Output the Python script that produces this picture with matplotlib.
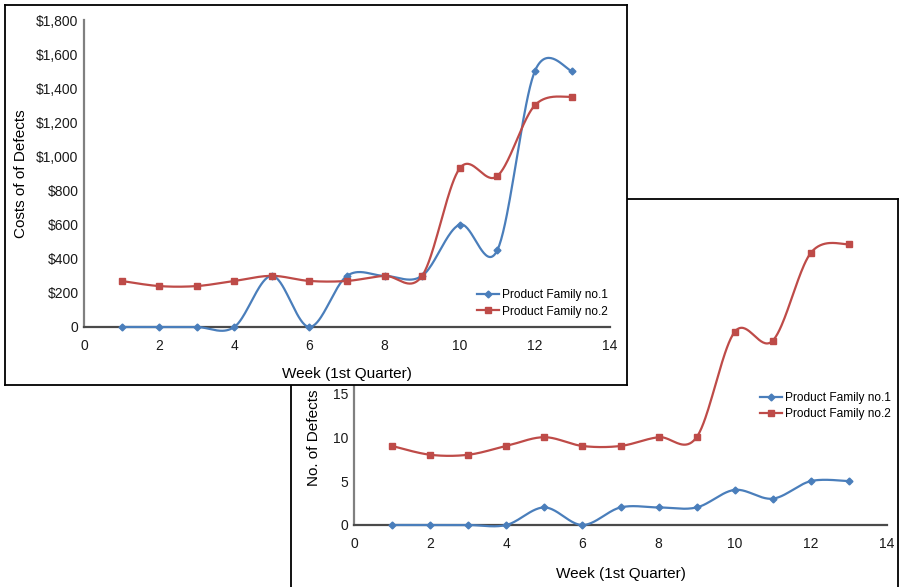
import numpy as np
import matplotlib
matplotlib.use("Agg")
import matplotlib.pyplot as plt
from matplotlib.lines import Line2D
from matplotlib.ticker import FuncFormatter, MultipleLocator

plt.rcParams['font.family'] = ['Liberation Sans', 'DejaVu Sans']

# ---- data ----
weeks = [1, 2, 3, 4, 5, 6, 7, 8, 9, 10, 11, 12, 13]
cost_family1 = [0, 0, 0, 0, 300, 0, 300, 300, 300, 600, 450, 1500, 1500]
cost_family2 = [270, 240, 240, 270, 300, 270, 270, 300, 300, 930, 885, 1300, 1350]
defects_family1 = [0, 0, 0, 0, 2, 0, 2, 2, 2, 4, 3, 5, 5]
defects_family2 = [9, 8, 8, 9, 10, 9, 9, 10, 10, 22, 21, 31, 32]
series_names = ["Product Family no.1", "Product Family no.2"]
x_label = "Week (1st Quarter)"
cost_label = "Costs of of Defects"
defects_label = "No. of Defects"

BLUE = "#4a7ebb"
RED = "#be4b48"

W, H = 902, 587
fig = plt.figure(figsize=(W / 100, H / 100), dpi=100)


def px_rect(x0, y0, x1, y1):
    return [x0 / W, 1 - y1 / H, (x1 - x0) / W, (y1 - y0) / H]


def smooth(x, y, n=40):
    """Cubic Bezier smoothing through every point (spreadsheet-style smooth line)."""
    pts = np.column_stack([x, y]).astype(float)
    P = np.vstack([pts[0], pts, pts[-1]])
    out = []
    t = np.linspace(0, 1, n)[:, None]
    for i in range(1, len(P) - 2):
        p0, p1, p2, p3 = P[i - 1], P[i], P[i + 1], P[i + 2]
        c1 = p1 + (p2 - p0) / 6
        c2 = p2 - (p3 - p1) / 6
        seg = ((1 - t) ** 3) * p1 + 3 * ((1 - t) ** 2) * t * c1 \
            + 3 * (1 - t) * t ** 2 * c2 + t ** 3 * p2
        out.append(seg if i == 1 else seg[1:])
    s = np.vstack(out)
    return s[:, 0], s[:, 1]


def panel(rect):
    a = fig.add_axes(rect)
    a.set_xticks([])
    a.set_yticks([])
    a.set_facecolor("white")
    for s in a.spines.values():
        s.set_color("black")
        s.set_linewidth(1.3)
    return a


def draw_series(ax, yvals, color, marker, ms):
    sx, sy = smooth(weeks, yvals)
    ax.plot(sx, sy, color=color, lw=1.6, clip_on=False, zorder=3,
            solid_capstyle="round")
    ax.plot(weeks, yvals, linestyle="none", marker=marker, ms=ms,
            color=color, mec=color, clip_on=False, zorder=4)


def style_axes(ax):
    for side in ("top", "right"):
        ax.spines[side].set_visible(False)
    ax.spines["left"].set_color("#808080")
    ax.spines["left"].set_linewidth(1.6)
    ax.spines["bottom"].set_color("#4a4a4a")
    ax.spines["bottom"].set_linewidth(1.6)
    ax.tick_params(axis="both", length=0, labelsize=10, colors="#1a1a1a")
    ax.tick_params(axis="x", pad=9)
    ax.tick_params(axis="y", pad=4)
    ax.set_xlim(0, 14)
    ax.xaxis.set_major_locator(MultipleLocator(2))
    ax.patch.set_alpha(0)


def legend(ax, anchor):
    handles = [
        Line2D([], [], color=BLUE, lw=1.6, marker="D", ms=3.5),
        Line2D([], [], color=RED, lw=1.6, marker="s", ms=5),
    ]
    ax.legend(handles, series_names, loc="center left", bbox_to_anchor=anchor,
              frameon=False, fontsize=8.6, handlelength=1.8, handletextpad=0.3,
              labelspacing=0.35, borderpad=0, borderaxespad=0)


# ---- back panel: number of defects ----
panel(px_rect(291, 199, 898, 620))
ax2 = fig.add_axes(px_rect(354, 217.7, 887, 525))
style_axes(ax2)
ax2.set_ylim(0, 35)
ax2.yaxis.set_major_locator(MultipleLocator(5))
draw_series(ax2, defects_family1, BLUE, "D", 3.5)
draw_series(ax2, defects_family2, RED, "s", 5)
ax2.set_xlabel(x_label, fontsize=11, labelpad=11)
ax2.set_ylabel(defects_label, fontsize=11)
ax2.yaxis.set_label_coords(-0.061, (525 - 438) / (525 - 217.7))
legend(ax2, ((760 - 354) / 533, (525 - 406) / (525 - 217.7)))

# ---- front panel: cost of defects ----
panel(px_rect(5, 5, 627, 385))
ax1 = fig.add_axes(px_rect(84, 20, 610, 327))
style_axes(ax1)
ax1.set_ylim(0, 1800)
ax1.yaxis.set_major_locator(MultipleLocator(200))
ax1.yaxis.set_major_formatter(FuncFormatter(lambda v, p: "0" if v == 0 else f"${v:,.0f}"))
draw_series(ax1, cost_family1, BLUE, "D", 3.5)
draw_series(ax1, cost_family2, RED, "s", 5)
ax1.set_xlabel(x_label, fontsize=11, labelpad=10)
ax1.set_ylabel(cost_label, fontsize=11, labelpad=6)
legend(ax1, ((477 - 84) / 526, (327 - 303.5) / 307))

fig.savefig("out.png", dpi=100)
